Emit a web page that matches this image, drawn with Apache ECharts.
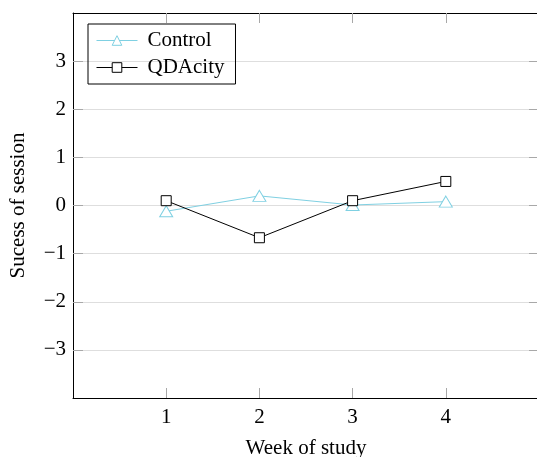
<!DOCTYPE html>
<html>
<head>
<meta charset="utf-8">
<script src="https://cdn.jsdelivr.net/npm/echarts@6/dist/echarts.min.js"></script>
<style>
  html, body { margin: 0; padding: 0; background: #fff; }
  #chart { width: 537px; height: 457px; }
</style>
</head>
<body>
<div id="chart"></div>
<script>
const weeks = [1, 2, 3, 4]
const controlValues = [-0.12, 0.2, 0.01, 0.08]
const qdacityValues = [0.1, -0.67, 0.1, 0.5]
const yTicks = [-3, -2, -1, 0, 1, 2, 3]

const font = 'Liberation Serif'
const fs = 21
const tickStyle = { show: true, inside: true, length: 10, lineStyle: { color: '#a8a8a8', width: 1 } }
const frameLine = { show: true, onZero: false, lineStyle: { color: '#000', width: 1 } }

const pairs = vals => weeks.map((w, i) => [w, vals[i]])
const fmtNum = v => (v < 0 ? '\u2212' + Math.abs(v) : String(v))

const chart = echarts.init(document.getElementById('chart'), null, { renderer: 'canvas' })
chart.setOption({
  animation: false,
  backgroundColor: '#fff',
  textStyle: { fontFamily: font },
  grid: { left: 73, top: 13, width: 466, height: 385, containLabel: false, outerBoundsMode: 'none' },
  legend: {
    orient: 'vertical',
    left: 88,
    top: 24,
    padding: [6, 11, 6, 8],
    itemGap: 6,
    itemWidth: 41,
    itemHeight: 12,
    borderColor: '#000',
    borderWidth: 1,
    borderRadius: 0,
    lineStyle: { width: 1 },
    itemStyle: { borderWidth: 1 },
    textStyle: { fontFamily: font, fontSize: fs, color: '#000', padding: [0, 0, 0, 5] },
    data: ['Control', 'QDAcity']
  },
  xAxis: [
    {
      type: 'value', min: 0, max: 5, interval: 1,
      name: 'Week of study', nameLocation: 'middle', nameGap: 40,
      nameTextStyle: { fontFamily: font, fontSize: fs, color: '#000' },
      axisLine: frameLine,
      axisTick: Object.assign({ customValues: weeks }, tickStyle),
      axisLabel: { customValues: weeks, margin: 9, fontFamily: font, fontSize: fs, color: '#000' },
      splitLine: { show: false }
    },
    {
      type: 'value', position: 'top', min: 0, max: 5, interval: 1,
      axisLine: frameLine,
      axisTick: Object.assign({ customValues: weeks }, tickStyle),
      axisLabel: { show: false },
      splitLine: { show: false }
    }
  ],
  yAxis: [
    {
      type: 'value', min: -4, max: 4, interval: 1,
      name: 'Sucess of session', nameLocation: 'middle', nameGap: 44,
      nameTextStyle: { fontFamily: font, fontSize: fs, color: '#000' },
      axisLine: frameLine,
      axisTick: Object.assign({ customValues: yTicks }, tickStyle),
      axisLabel: { customValues: yTicks, margin: 7, fontFamily: font, fontSize: fs, color: '#000', formatter: fmtNum },
      splitLine: { show: true, lineStyle: { color: '#dedede', width: 1 } }
    },
    {
      type: 'value', position: 'right', min: -4, max: 4, interval: 1,
      axisLine: frameLine,
      axisTick: Object.assign({ customValues: yTicks }, tickStyle),
      axisLabel: { show: false },
      splitLine: { show: false }
    }
  ],
  series: [
    {
      name: 'Control', type: 'line', data: pairs(controlValues),
      symbol: 'triangle', symbolSize: [13, 11],
      lineStyle: { color: '#7fd0e2', width: 1 },
      itemStyle: { color: '#fff', borderColor: '#7fd0e2', borderWidth: 1 },
      z: 3
    },
    {
      name: 'QDAcity', type: 'line', data: pairs(qdacityValues),
      symbol: 'rect', symbolSize: 10,
      lineStyle: { color: '#000', width: 1 },
      itemStyle: { color: '#fff', borderColor: '#000', borderWidth: 1 },
      z: 4
    }
  ]
})
</script>
</body>
</html>
